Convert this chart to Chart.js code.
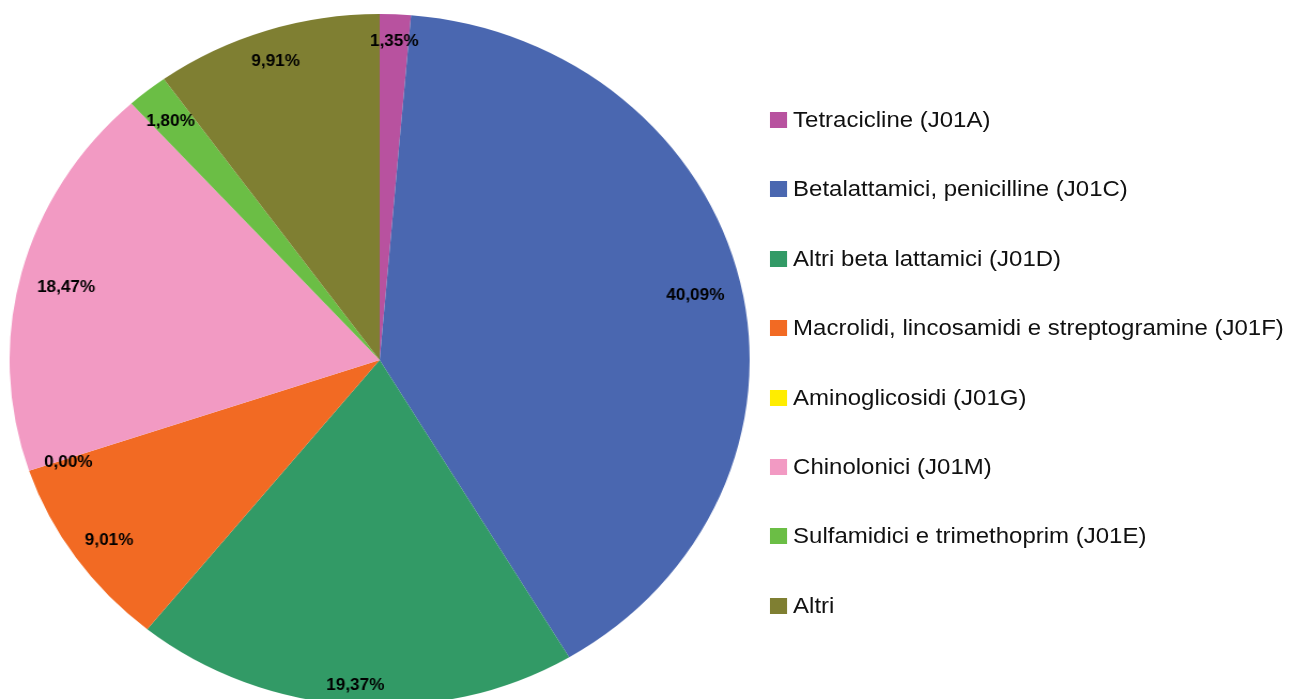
<!DOCTYPE html>
<html>
<head>
<meta charset="utf-8">
<script src="https://cdn.jsdelivr.net/npm/chart.js@4"></script>
<style>
  html, body { margin: 0; padding: 0; background: #fff; }
  body { width: 1291px; height: 699px; overflow: hidden; position: relative; }
  /* the reference is slightly stretched sideways, so the whole stage is too */
  #stage { position: absolute; left: 0; top: 0; width: 1208px; height: 699px;
           transform: scaleX(1.0694); transform-origin: 0 0; }
  #pieBox { position: absolute; left: 9px; top: 14px; width: 692px; height: 692px; }
  #legend { position: absolute; left: 720px; top: 0; font-family: "Liberation Sans", Arial, sans-serif; color: #111; }
  .item { position: absolute; left: 0; white-space: nowrap; display: flex; align-items: center; }
  .box { width: 15.6px; height: 16px; margin-right: 6px; flex: none; }
</style>
</head>
<body>
<div id="stage">
  <div id="pieBox"><canvas id="pie" width="692" height="692"></canvas></div>
  <div id="legend"></div>
</div>
<script>
const categories = [
  "Tetracicline (J01A)",
  "Betalattamici, penicilline (J01C)",
  "Altri beta lattamici (J01D)",
  "Macrolidi, lincosamidi e streptogramine (J01F)",
  "Aminoglicosidi (J01G)",
  "Chinolonici (J01M)",
  "Sulfamidici e trimethoprim (J01E)",
  "Altri"
];
const shares = [1.35, 40.09, 19.37, 9.01, 0.00, 18.47, 1.80, 9.91];
const colors = ["#B8529F", "#4A67B0", "#329A66", "#F26A23", "#FFED00", "#F29AC3", "#6BBE45", "#7F7F32"];

const fmt = (v) => v.toFixed(2).replace(".", ",") + "%";

// legend built from the same arrays
const legend = document.getElementById("legend");
const measure = document.createElement("canvas").getContext("2d");
measure.font = "100px 'Liberation Sans'";
const widest = Math.max(...categories.map((c) => measure.measureText(c).width));
const fontSize = (459 / widest) * 100;
categories.forEach((name, i) => {
  const row = document.createElement("div");
  row.className = "item";
  row.style.top = (120 + i * 69.4 - 12) + "px";
  row.style.height = "24px";
  row.style.fontSize = fontSize + "px";
  row.innerHTML = '<span class="box" style="background:' + colors[i] + '"></span><span>' + name + "</span>";
  legend.appendChild(row);
});

const sliceLabels = {
  id: "sliceLabels",
  afterDatasetsDraw(chart) {
    const ctx = chart.ctx;
    const meta = chart.getDatasetMeta(0);
    ctx.save();
    ctx.font = "bold 16px 'Liberation Sans'";
    ctx.fillStyle = "#000";
    ctx.textAlign = "center";
    ctx.textBaseline = "middle";
    meta.data.forEach((arc, i) => {
      const p = arc.getProps(["x", "y", "startAngle", "endAngle", "outerRadius"], true);
      const mid = (p.startAngle + p.endAngle) / 2;
      const text = fmt(shares[i]);
      const w = ctx.measureText(text).width;
      const h = 14;
      const c = Math.cos(mid), s = Math.sin(mid);
      const r = p.outerRadius - 15 - (Math.abs(c) * w / 2 + Math.abs(s) * h / 2);
      ctx.fillText(text, p.x + c * r, p.y + s * r + 4);
    });
    ctx.restore();
  }
};

new Chart(document.getElementById("pie"), {
  type: "pie",
  data: {
    labels: categories,
    datasets: [{ data: shares, backgroundColor: colors, borderWidth: 0 }]
  },
  options: {
    responsive: false,
    animation: false,
    layout: { padding: 0 },
    plugins: { legend: { display: false }, tooltip: { enabled: false } }
  },
  plugins: [sliceLabels]
});
</script>
</body>
</html>
